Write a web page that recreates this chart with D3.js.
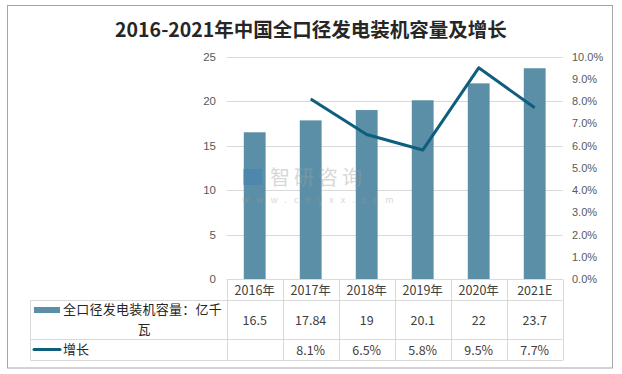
<!DOCTYPE html>
<html>
<head>
<meta charset="utf-8">
<script src="https://cdn.jsdelivr.net/npm/d3@7"></script>
<style>
  html, body { margin: 0; padding: 0; background: #fff; }
  svg { display: block; font-family: "Noto Sans CJK SC", "Noto Sans", sans-serif; }
</style>
</head>
<body>
<script>
// data
var years = ['2016年', '2017年', '2018年', '2019年', '2020年', '2021E'];
var capacity = [16.5, 17.84, 19, 20.1, 22, 23.7];
var capacityLabels = ['16.5', '17.84', '19', '20.1', '22', '23.7'];
var growth = [null, 8.1, 6.5, 5.8, 9.5, 7.7];
var growthLabels = ['', '8.1%', '6.5%', '5.8%', '9.5%', '7.7%'];
var leftTicks = [0, 5, 10, 15, 20, 25];
var rightTicks = [0, 1, 2, 3, 4, 5, 6, 7, 8, 9, 10];

var W = 622, H = 374;
var barColor = '#5b8fa7', lineColor = '#0e5e7d', gridColor = '#d9d9d9', textColor = '#595959';

var svg = d3.select('body').append('svg')
  .attr('width', W)
  .attr('height', H);

// outer frame
svg.append('rect')
  .attr('x', 7.5).attr('y', 5.5)
  .attr('width', 605).attr('height', 362.5)
  .attr('fill', '#fff')
  .attr('stroke', '#a6a6a6')
  .attr('stroke-width', 1);

// title
svg.append('text')
  .text('2016-2021年中国全口径发电装机容量及增长')
  .attr('x', 311).attr('y', 37)
  .attr('text-anchor', 'middle')
  .attr('font-size', 19.5)
  .attr('font-weight', 'bold')
  .attr('fill', '#262626');

var x = d3.scaleBand().domain(years).range([226.7, 562.7]).padding(0);
var y = d3.scaleLinear().domain([0, 25]).range([279, 56.7]);
var y2 = d3.scaleLinear().domain([0, 10]).range([279, 56.7]);

// gridlines
svg.append('g').selectAll('line')
  .data(leftTicks.slice(1))
  .join('line')
  .attr('x1', 226.7).attr('x2', 562.7)
  .attr('y1', function(d) { return Math.round(y(d)) + 0.5; })
  .attr('y2', function(d) { return Math.round(y(d)) + 0.5; })
  .attr('stroke', gridColor);

// left axis
var leftAxis = svg.append('g')
  .attr('transform', 'translate(216,0)')
  .call(d3.axisLeft(y).tickValues(leftTicks).tickSize(0).tickPadding(0));
leftAxis.select('.domain').remove();
leftAxis.selectAll('text')
  .attr('font-size', 11.5).attr('fill', textColor)
  .attr('font-family', '"Liberation Sans", sans-serif');

// right axis
var rightAxis = svg.append('g')
  .attr('transform', 'translate(572,0)')
  .call(d3.axisRight(y2).tickValues(rightTicks).tickSize(0).tickPadding(0)
    .tickFormat(function(d) { return d.toFixed(1) + '%'; }));
rightAxis.select('.domain').remove();
rightAxis.selectAll('text')
  .attr('font-size', 11).attr('fill', textColor)
  .attr('font-family', '"Liberation Sans", sans-serif');

// bars
var bw = x.bandwidth() * 0.39;
svg.append('g').selectAll('rect')
  .data(capacity)
  .join('rect')
  .attr('x', function(d, i) { return x(years[i]) + (x.bandwidth() - bw) / 2; })
  .attr('y', function(d) { return y(d); })
  .attr('width', bw)
  .attr('height', function(d) { return y(0) - y(d); })
  .attr('fill', barColor);

// watermark (sits over the bars)
var wm = svg.append('g').attr('opacity', 0.4);
wm.append('rect').attr('x', 243).attr('y', 169).attr('width', 19).attr('height', 16).attr('fill', '#3d7db6');
wm.append('text').text('智研咨询')
  .attr('x', 270).attr('y', 185)
  .attr('font-size', 20).attr('fill', '#a0a0a0').attr('letter-spacing', 4);
wm.append('text').text('www.chyxx.com')
  .attr('x', 242).attr('y', 203)
  .attr('font-size', 9).attr('fill', '#a0a0a0').attr('letter-spacing', 7);

// growth line
var pts = growth.map(function(d, i) { return { c: years[i], v: d }; })
  .filter(function(d) { return d.v !== null; });
svg.append('path')
  .datum(pts)
  .attr('d', d3.line()
    .x(function(d) { return x(d.c) + x.bandwidth() / 2; })
    .y(function(d) { return y2(d.v); }))
  .attr('fill', 'none')
  .attr('stroke', lineColor)
  .attr('stroke-width', 3)
  .attr('stroke-linejoin', 'round');

// data table
var tbl = svg.append('g').attr('stroke', gridColor).attr('stroke-width', 1).attr('fill', 'none');
tbl.append('line').attr('x1', 226.7).attr('x2', 562.7).attr('y1', 279.5).attr('y2', 279.5);
tbl.append('line').attr('x1', 30.7).attr('x2', 562.7).attr('y1', 300.5).attr('y2', 300.5);
tbl.append('line').attr('x1', 30.7).attr('x2', 562.7).attr('y1', 339.5).attr('y2', 339.5);
tbl.append('line').attr('x1', 30.7).attr('x2', 562.7).attr('y1', 360.5).attr('y2', 360.5);
tbl.append('line').attr('x1', 30.5).attr('x2', 30.5).attr('y1', 300.5).attr('y2', 360.5);
var cols = years.map(function(c) { return x(c); }).concat([x.range()[1]]);
tbl.selectAll('line.col')
  .data(cols)
  .join('line')
  .attr('class', 'col')
  .attr('x1', function(d) { return Math.round(d) + 0.5; })
  .attr('x2', function(d) { return Math.round(d) + 0.5; })
  .attr('y1', 279.5).attr('y2', 360.5);

var txt = svg.append('g')
  .attr('font-size', 12.5)
  .attr('fill', '#404040')
  .attr('text-anchor', 'middle');

txt.selectAll('text.hdr')
  .data(years)
  .join('text')
  .attr('class', 'hdr')
  .attr('x', function(d) { return x(d) + x.bandwidth() / 2; })
  .attr('y', 295)
  .text(function(d) { return d; });

txt.selectAll('text.cap')
  .data(capacityLabels)
  .join('text')
  .attr('class', 'cap')
  .attr('x', function(d, i) { return x(years[i]) + x.bandwidth() / 2; })
  .attr('y', 324.5)
  .text(function(d) { return d; });

txt.selectAll('text.gr')
  .data(growthLabels)
  .join('text')
  .attr('class', 'gr')
  .attr('x', function(d, i) { return x(years[i]) + x.bandwidth() / 2; })
  .attr('y', 354.5)
  .text(function(d) { return d; });

// legend keys in table
svg.append('rect')
  .attr('x', 34).attr('y', 307).attr('width', 26).attr('height', 6)
  .attr('fill', barColor);
svg.append('text')
  .text('全口径发电装机容量：亿千')
  .attr('x', 63).attr('y', 314)
  .attr('font-size', 13).attr('letter-spacing', 0.25)
  .attr('fill', '#262626');
svg.append('text')
  .text('瓦')
  .attr('x', 144).attr('y', 333.5)
  .attr('font-size', 13).attr('text-anchor', 'middle')
  .attr('fill', '#262626');

svg.append('line')
  .attr('x1', 34).attr('x2', 60).attr('y1', 349.5).attr('y2', 349.5)
  .attr('stroke', lineColor).attr('stroke-width', 3)
  .attr('stroke-linecap', 'round');
svg.append('text')
  .text('增长')
  .attr('x', 63).attr('y', 354)
  .attr('font-size', 13)
  .attr('fill', '#262626');
</script>
</body>
</html>
